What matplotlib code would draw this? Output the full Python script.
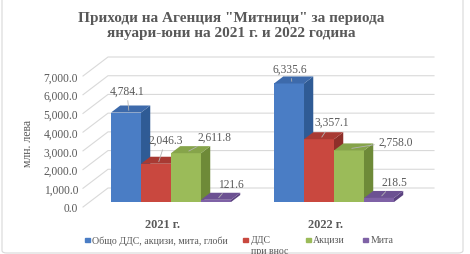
import matplotlib
matplotlib.use("Agg")
import matplotlib.pyplot as plt
from matplotlib.patches import Polygon, Rectangle, FancyBboxPatch

plt.rcParams['font.family'] = ['Liberation Serif', 'DejaVu Serif']

# ---- data ----
categories = ["2021 г.", "2022 г."]
series_names = ["Общо ДДС, акцизи, мита, глоби", "ДДС\nпри внос", "Акцизи", "Мита"]
total = [4784.1, 6335.6]
vat_import = [2046.3, 3357.1]
excise = [2611.8, 2758.0]
duties = [121.6, 218.5]
series_values = [total, vat_import, excise, duties]
y_ticks = [0, 1000, 2000, 3000, 4000, 5000, 6000, 7000]

# ---- style ----
front_cols = ["#4a7dc5", "#c9483f", "#9bbb59", "#7f62a6"]
side_cols = ["#2f5b95", "#8e2f29", "#6e8a38", "#5b4280"]
top_cols = ["#3d6aab", "#a83a33", "#86a44a", "#6c5192"]
txt_col = "#595959"
grid_col = "#d9d9d9"

W, H = 470, 255
fig = plt.figure(figsize=(W / 100, H / 100), dpi=100)
fig.patch.set_facecolor("white")

# chart border
fig.patches.append(FancyBboxPatch((2 / W, 1 / H), 461 / W, 256 / H,
                                  boxstyle="round,pad=0,rounding_size=0.01",
                                  transform=fig.transFigure, fill=False,
                                  edgecolor="#d9d9d9", lw=0.8))

# plot area (front plane)
x0p, x1p, y0p, y1p = 83, 409, 208, 77
ax = fig.add_axes([x0p / W, 1 - y0p / H, (x1p - x0p) / W, (y0p - y1p) / H])
ax.set_xlim(0, 2)
ax.set_ylim(0, 7000)
for s in ax.spines.values():
    s.set_visible(False)

DX = 25 / (x1p - x0p) * 2          # depth offset in x data units
DY = 19 / (y0p - y1p) * 7000       # depth offset in y data units

# gridlines (side wall + back wall)
for v in y_ticks:
    ax.plot([0, DX, 2 + DX], [v, v + DY, v + DY], color=grid_col, lw=0.8,
            clip_on=False, zorder=0)

ax.set_yticks(y_ticks)
ax.set_yticklabels([f"{v:,.1f}" for v in y_ticks], fontsize=8.3, color=txt_col)
ax.tick_params(axis="y", length=0, pad=3.5)
ax.set_xticks([0.49, 1.49])
ax.set_xticklabels(categories, fontsize=8.8, fontweight="bold", color=txt_col)
ax.tick_params(axis="x", length=0, pad=8)

fig.text(28 / W, 1 - 143 / H, "млн. лева", rotation=90, ha="center", va="center",
         fontsize=8.5, color=txt_col)

f1, f2 = 0.26, 0.63
gw = 0.736
bw = gw / 4
label_offsets = [[(-2, 20), (-2, 13)], [(7, 22), (10, 15)],
                 [(26, 14), (44, 7)], [(12, 14), (13, 14)]]

for i in range(len(categories)):
    for j, vals in enumerate(series_values):
        v = vals[i]
        xl = i + 0.5 - gw / 2 + j * bw
        xf = xl + f1 * DX
        yb = f1 * DY
        ax.bar(xf, v, width=bw, bottom=yb, align="edge", color=front_cols[j],
               edgecolor="none", zorder=3 + j * 0.1, clip_on=False)
        side = [(xf + bw, yb), (xl + bw + f2 * DX, f2 * DY),
                (xl + bw + f2 * DX, v + f2 * DY), (xf + bw, v + yb)]
        ax.add_patch(Polygon(side, closed=True, color=side_cols[j], lw=0,
                             zorder=3 + j * 0.1, clip_on=False))
        top = [(xf, v + yb), (xf + bw, v + yb),
               (xl + bw + f2 * DX, v + f2 * DY), (xl + f2 * DX, v + f2 * DY)]
        ax.add_patch(Polygon(top, closed=True, color=top_cols[j], lw=0,
                             zorder=3 + j * 0.1, clip_on=False))
        ox, oy = label_offsets[j][i]
        ax.annotate(f"{v:,.1f}",
                    xy=(xf + bw / 2 + 0.3 * (f2 - f1) * DX, v + yb + 0.3 * (f2 - f1) * DY),
                    xytext=(ox, oy), textcoords="offset pixels",
                    ha="center", va="center", fontsize=8.3, color=txt_col,
                    arrowprops=dict(arrowstyle="-", color="#b3b3b3", lw=0.6,
                                    shrinkA=1, shrinkB=0),
                    zorder=6, annotation_clip=False)

# title
fig.text(231 / W, 1 - 26 / H,
         'Приходи на Агенция "Митници" за периода\nянуари-юни на 2021 г. и 2022 година',
         ha="center", va="center", fontsize=11, fontweight="bold", color=txt_col,
         linespacing=1.25)

# legend (manual)
leg_sq = [87, 245, 308, 365]
leg_tx = [92, 251, 313, 371]
leg_y = 241
for j, name in enumerate(series_names):
    fig.patches.append(Rectangle(((leg_sq[j] - 2) / W, 1 - (leg_y + 2) / H), 4.5 / W, 4.5 / H,
                                 transform=fig.transFigure, color=front_cols[j]))
    for k, line in enumerate(name.split("\n")):
        fig.text(leg_tx[j] / W, 1 - (leg_y + 11 * k) / H, line, ha="left", va="center",
                 fontsize=7.1, color=txt_col)

fig.savefig("out.png", dpi=100, facecolor="white")
